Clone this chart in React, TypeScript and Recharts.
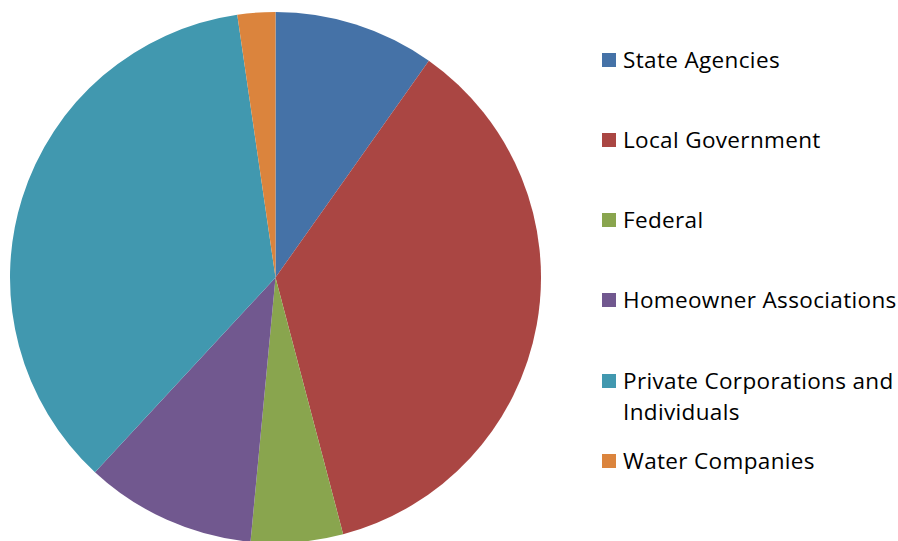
import React from "react";
import { PieChart, Pie, Cell, Legend } from "recharts";

const categories = [
  "State Agencies",
  "Local Government",
  "Federal",
  "Homeowner Associations",
  "Private Corporations and Individuals",
  "Water Companies",
];
const shares = [9.8, 36.1, 5.6, 10.4, 35.8, 2.3];
const colors = ["#4572A7", "#AA4643", "#89A54E", "#71588F", "#4198AF", "#DB843D"];

const data = categories.map((name, i) => ({ name, value: shares[i] }));

// center y of the first text line of each legend entry
const rowCenters = [60, 140, 220, 300, 381, 461];

const LegendBox = () => (
  <div style={{ position: "relative", width: 297, height: 541 }}>
    {categories.map((name, i) => (
      <div
        key={name}
        style={{
          position: "absolute",
          left: 2,
          top: rowCenters[i] - 16,
          width: 296,
          display: "flex",
          alignItems: "flex-start",
        }}
      >
        <span
          style={{
            display: "inline-block",
            width: 14,
            height: 14,
            marginTop: 9,
            background: colors[i],
            flexShrink: 0,
          }}
        />
        <span
          style={{
            marginLeft: 7,
            fontFamily: "'Open Sans', sans-serif",
            fontSize: 22.5,
            letterSpacing: 0.35,
            lineHeight: "31px",
            color: "#000",
            maxWidth: 275,
          }}
        >
          {name}
        </span>
      </div>
    ))}
  </div>
);

export default function App() {
  return (
    <div style={{ position: "absolute", left: 0, top: 0, background: "#fff" }}>
      <PieChart width={898} height={541} margin={{ top: 0, right: 0, bottom: 0, left: 0 }}>
        <Pie
          data={data}
          dataKey="value"
          nameKey="name"
          cx={275.5}
          cy={277.5}
          outerRadius={265.5}
          startAngle={90}
          endAngle={-270}
          stroke="none"
          isAnimationActive={false}
        >
          {data.map((d, i) => (
            <Cell key={d.name} fill={colors[i]} />
          ))}
        </Pie>
        <Legend
          content={<LegendBox />}
          wrapperStyle={{ position: "absolute", left: 600, top: 0, width: 297, height: 541 }}
        />
      </PieChart>
    </div>
  );
}
